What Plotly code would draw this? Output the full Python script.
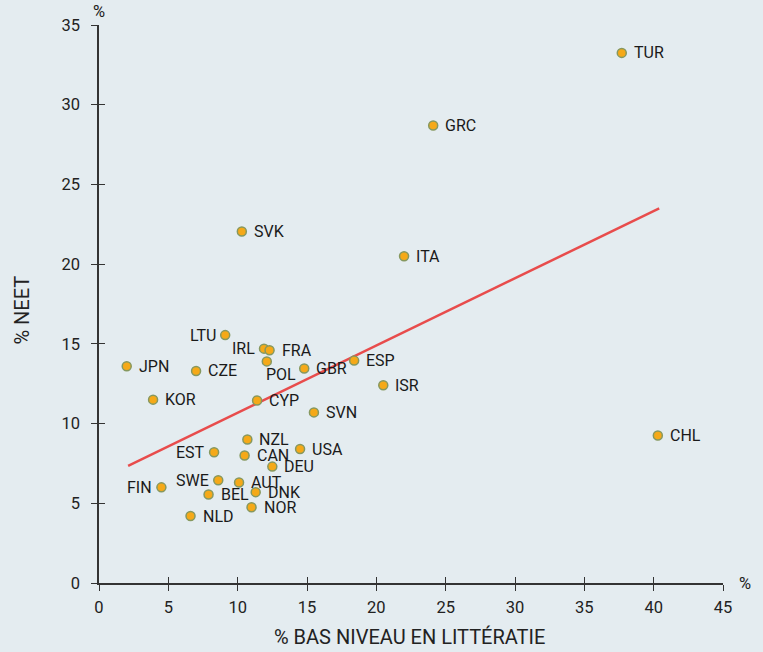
import plotly.graph_objects as go

countries = ["TUR","GRC","SVK","ITA","CHL","LTU","IRL","FRA","POL","JPN","CZE","GBR","ESP","ISR","KOR",
             "CYP","SVN","NZL","USA","EST","CAN","DEU","SWE","AUT","FIN","DNK","BEL","NOR","NLD"]
low_literacy = [37.7,24.1,10.3,22.0,40.3,9.1,11.9,12.3,12.1,2.0,7.0,14.8,18.4,20.5,3.9,
                11.4,15.5,10.7,14.5,8.3,10.5,12.5,8.6,10.1,4.5,11.3,7.9,11.0,6.6]
neet = [33.25,28.7,22.05,20.5,9.25,15.55,14.7,14.6,13.9,13.6,13.3,13.45,13.95,12.4,11.5,
        11.45,10.7,9.0,8.4,8.2,8.0,7.3,6.45,6.3,6.0,5.7,5.55,4.75,4.2]
label_side = ["r","r","r","r","r","l","l","r","br","r","r","r","r","r","r",
              "r","r","r","r","l","r","r","l","r","l","r","r","r","r"]
trend_x = [2.1, 40.4]
trend_y = [7.35, 23.5]

BG = "#e4ecf0"
AX = "#333333"
TICKFONT = dict(family="Roboto, sans-serif", size=16.5, color="#222")
TITLEFONT = dict(family="Roboto, sans-serif", size=20, color="#222")
LABFONT = dict(family="Roboto, sans-serif", size=16, color="#1a1a1a")

fig = go.Figure()
fig.add_trace(go.Scatter(x=trend_x, y=trend_y, mode="lines",
                         line=dict(color="#e84c4c", width=2.5), hoverinfo="skip", showlegend=False))
fig.add_trace(go.Scatter(x=low_literacy, y=neet, mode="markers",
                         marker=dict(size=9, color="#f5a918", line=dict(color="#86985f", width=1.5)),
                         text=countries, showlegend=False))
# dummy trace for the overlay axes (inside ticks)
fig.add_trace(go.Scatter(x=[None], y=[None], xaxis="x2", yaxis="y2", showlegend=False))

for c, x, y, s in zip(countries, low_literacy, neet, label_side):
    if s == "r":
        a = dict(xanchor="left", yanchor="middle", xshift=10, yshift=0)
    elif s == "l":
        a = dict(xanchor="right", yanchor="middle", xshift=-7, yshift=0)
    else:
        a = dict(xanchor="left", yanchor="middle", xshift=-3, yshift=-13)
    fig.add_annotation(x=x, y=y, text=c, showarrow=False, font=LABFONT, **a)

axis_common = dict(showline=True, linecolor=AX, linewidth=1.5, showgrid=False, zeroline=False,
                   ticks="outside", ticklen=6, tickwidth=1.3, tickcolor=AX, tickfont=TICKFONT)
fig.update_layout(
    width=763, height=652,
    paper_bgcolor=BG, plot_bgcolor=BG,
    margin=dict(l=99, r=40, t=25, b=69),
    xaxis=dict(range=[0, 45], dtick=5, tick0=0, ticklabelstandoff=2, **axis_common),
    yaxis=dict(range=[0, 35], dtick=5, tick0=0, ticklabelstandoff=8, **axis_common),
    xaxis2=dict(overlaying="x", matches="x", range=[0, 45], dtick=5, tick0=0, showline=False,
                showgrid=False, zeroline=False, ticks="inside", ticklen=6, tickwidth=1.3,
                tickcolor=AX, showticklabels=False, anchor="y2"),
    yaxis2=dict(overlaying="y", matches="y", range=[0, 35], dtick=5, tick0=0, showline=False,
                showgrid=False, zeroline=False, ticks="inside", ticklen=6, tickwidth=1.3,
                tickcolor=AX, showticklabels=False, anchor="x2"),
    showlegend=False,
)
fig.add_annotation(xref="paper", yref="paper", x=0, y=1, yshift=14, text="%", showarrow=False,
                   font=TICKFONT, xanchor="center", yanchor="middle")
fig.add_annotation(xref="paper", yref="paper", x=1, y=0, xshift=22, text="%", showarrow=False,
                   font=TICKFONT, xanchor="center", yanchor="middle")
fig.add_annotation(xref="paper", yref="paper", x=-0.1234, y=0.49, text="% NEET", showarrow=False,
                   textangle=-90, font=TITLEFONT, xanchor="center", yanchor="middle")
fig.add_annotation(xref="paper", yref="paper", x=0.497, y=-0.096, text="% BAS NIVEAU EN LITTÉRATIE",
                   showarrow=False, font=TITLEFONT, xanchor="center", yanchor="middle")

fig.write_html("out.html", config={"displayModeBar": False},
               post_script="document.body.style.margin='0';document.body.style.background='%s';" % BG)
